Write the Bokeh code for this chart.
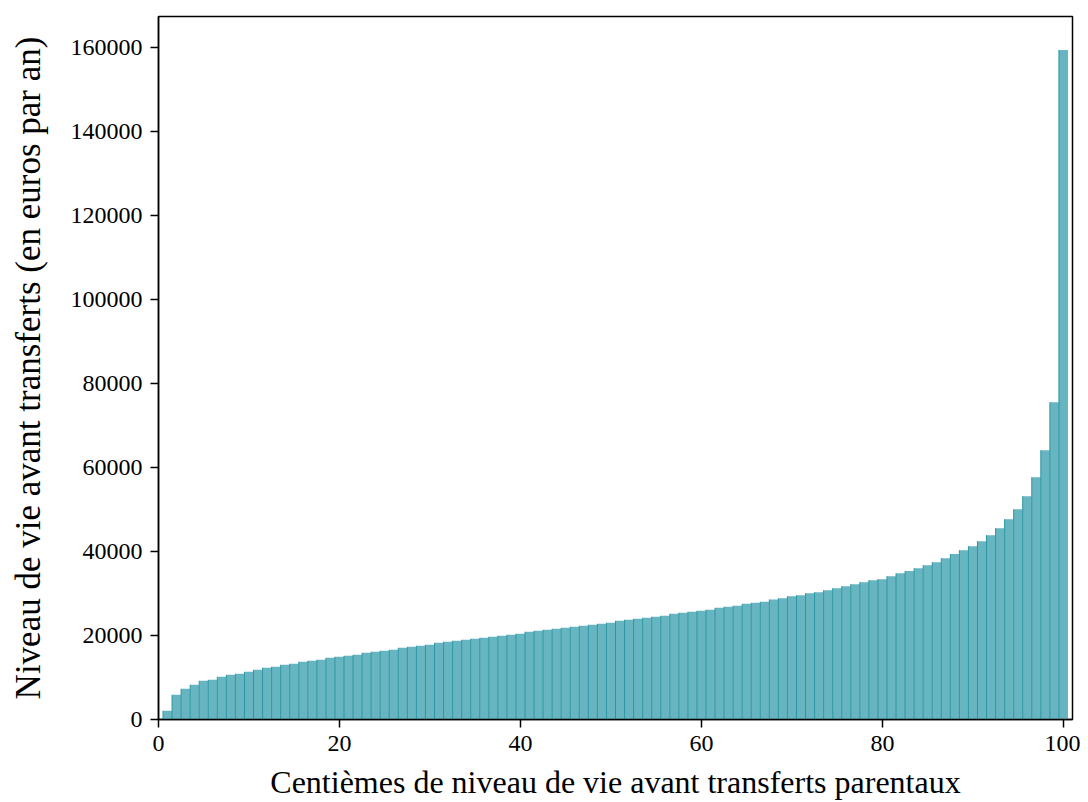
from bokeh.plotting import figure
from bokeh.models import ColumnDataSource, Range1d, FixedTicker, BasicTickFormatter
from bokeh.embed import file_html
from bokeh.resources import INLINE

# Percentiles (centièmes) 1..100
centiemes = list(range(1, 101))
# Niveau de vie avant transferts (euros par an)
niveau = [
    2070, 5880, 7300, 8260, 9210, 9450, 10160, 10640, 10880, 11350,
    11830, 12310, 12550, 13020, 13260, 13740, 13970, 14210, 14690, 14930,
    15170, 15400, 15880, 16120, 16360, 16590, 17070, 17310, 17550, 17790,
    18260, 18500, 18740, 18980, 19220, 19450, 19690, 19930, 20170, 20410,
    20880, 21120, 21360, 21600, 21840, 22070, 22310, 22550, 22790, 23030,
    23500, 23740, 23980, 24220, 24460, 24690, 25170, 25410, 25650, 25890,
    26120, 26600, 26840, 27080, 27550, 27790, 28030, 28580, 28900, 29380,
    29620, 30100, 30340, 30820, 31290, 31770, 32250, 32720, 33200, 33440,
    34150, 34870, 35350, 36060, 36770, 37490, 38440, 39400, 40350, 41300,
    42490, 43920, 45590, 47730, 50110, 53210, 57740, 64170, 75590, 159500,
]
x_ticks = [0, 20, 40, 60, 80, 100]
y_ticks = [0, 20000, 40000, 60000, 80000, 100000, 120000, 140000, 160000]

x_label = "Centièmes de niveau de vie avant transferts parentaux"
y_label = "Niveau de vie avant transferts (en euros par an)"

FONT = "Liberation Serif"
BAR_FILL = "#67b5c0"
BAR_EDGE = "#2b97a4"

bar_w = 1.0
src = ColumnDataSource(data=dict(
    x=centiemes,
    top=niveau,
    left=[c - bar_w / 2 for c in centiemes],
    zero=[0] * len(centiemes),
))

p = figure(
    width=1080, height=802,
    output_backend="svg", toolbar_location=None,
    x_range=Range1d(0, 101), y_range=Range1d(0, max(niveau) * 1.05),
    min_border_left=158, min_border_right=8, min_border_top=16, min_border_bottom=83,
)

p.vbar(x="x", top="top", bottom=0, width=bar_w, source=src,
       fill_color=BAR_FILL, line_color=None)
p.segment(x0="left", y0="zero", x1="left", y1="top", source=src,
          line_color=BAR_EDGE, line_width=1)

p.xgrid.visible = False
p.ygrid.visible = False
p.outline_line_color = "black"
p.outline_line_width = 1.5
p.background_fill_color = "white"
p.border_fill_color = "white"

p.xaxis.ticker = FixedTicker(ticks=x_ticks)
p.yaxis.ticker = FixedTicker(ticks=y_ticks)
p.yaxis.formatter = BasicTickFormatter(use_scientific=False)

for ax in (p.xaxis[0], p.yaxis[0]):
    ax.axis_line_color = "black"
    ax.axis_line_width = 1.5
    ax.major_tick_line_color = "black"
    ax.major_tick_line_width = 1.5
    ax.major_tick_out = 8
    ax.major_tick_in = 0
    ax.minor_tick_line_color = None
    ax.major_label_text_font = FONT
    ax.major_label_text_font_size = "24px"
    ax.major_label_text_color = "black"
    ax.axis_label_text_font = FONT
    ax.axis_label_text_font_style = "normal"
    ax.axis_label_text_color = "black"
    ax.major_label_standoff = 8

p.xaxis.axis_label = x_label
p.yaxis.axis_label = y_label
p.xaxis.axis_label_text_font_size = "32px"
p.yaxis.axis_label_text_font_size = "35px"
p.xaxis.axis_label_standoff = 10
p.yaxis.axis_label_standoff = 20

open("out.html", "w").write(file_html(p, INLINE))
